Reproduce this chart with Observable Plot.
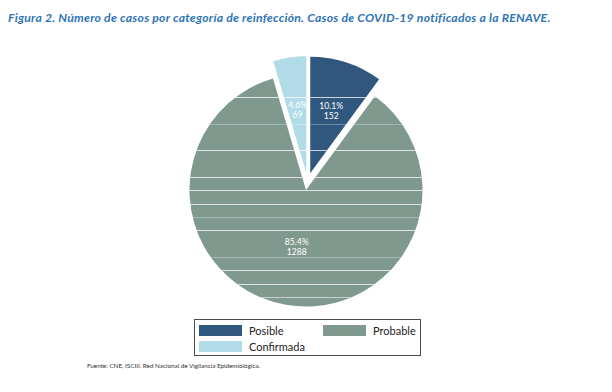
<!DOCTYPE html>
<html><head><meta charset="utf-8">
<script src="https://cdn.jsdelivr.net/npm/d3@7"></script>
<script src="https://cdn.jsdelivr.net/npm/@observablehq/plot@0.6"></script>
<style>
body{margin:0;width:612px;height:392px;position:relative;background:#fff;font-family:Lato,"Open Sans",sans-serif;overflow:hidden}
#title{position:absolute;left:8px;top:10px;font-weight:bold;font-style:italic;font-size:12.2px;letter-spacing:0.25px;color:#2E74B5;white-space:nowrap;line-height:15px}
#chart{position:absolute;left:0;top:30px}
#legend{position:absolute;left:194px;top:319px;width:225px;height:35px;border:1px solid #4a4a4a}
.sw{position:absolute;width:43px;height:11px}
.lt{position:absolute;font-size:11px;color:#222;line-height:12px;white-space:nowrap}
#source{position:absolute;left:87px;top:362px;font-size:6.3px;color:#333;white-space:nowrap;line-height:8px}
</style></head><body>
<div id="title">Figura 2. Número de casos por categoría de reinfección. Casos de COVID-19 notificados a la RENAVE.</div>
<div id="chart"></div>
<div id="legend"></div>
<div id="source">Fuente: CNE, ISCIII. Red Nacional de Vigilancia Epidemiológica.</div>
<script>
const categories = ["Posible", "Probable", "Confirmada"];
const cases = [152, 1288, 69];
const percents = [10.1, 85.4, 4.6];
const colors = ["#30587F", "#7F998E", "#B1DCE7"];
const legendOrder = ["Posible", "Probable", "Confirmada"];

const rows = categories.map((c, i) => ({category: c, cases: cases[i], pct: percents[i], color: colors[i]}));
const slices = d3.pie().sort(null).value(d => d.cases)(rows);
const explode = 0.075;
const labelR = {Posible: 0.565, Probable: 0.49, Confirmada: 0.55};
const labels = slices.map(s => {
  const mid = (s.startAngle + s.endAngle) / 2;
  const rr = explode + labelR[s.data.category];
  return {x: rr * Math.sin(mid), y: rr * Math.cos(mid), text: `${s.data.pct.toFixed(1)}%\n${s.data.cases}`};
});

// faint white seams visible across the pie in the reference (rendering artefact)
const seams = [[0,.75],[2,.3],[4,.75],[6,.75],[7,.75],[8,.75],[9,.3],[10,.75],[12,.3],[13,.75],[14,.75],[15,.55]];

function pieMark(index, scales, values, dimensions) {
  const {x, y} = scales;
  const cx = x(0), cy = y(0), r = x(1) - x(0);
  const g = d3.create("svg:g");
  const clip = g.append("defs").append("clipPath").attr("id", "pieclip");
  const arc = d3.arc().innerRadius(0).outerRadius(r);
  for (const s of slices) {
    const mid = (s.startAngle + s.endAngle) / 2;
    const tx = cx + explode * r * Math.sin(mid), ty = cy - explode * r * Math.cos(mid);
    g.append("path").attr("d", arc(s)).attr("transform", `translate(${tx},${ty})`).attr("fill", s.data.color);
    clip.append("path").attr("d", arc(s)).attr("transform", `translate(${tx},${ty})`);
  }
  const lg = g.append("g").attr("clip-path", "url(#pieclip)");
  const step = r * 0.1144, y0 = cy - r * 0.725;
  for (const [k, o] of seams) {
    const yy = Math.round(y0 + k * step) + 0.5;
    lg.append("line").attr("x1", cx - r - 20).attr("x2", cx + r + 20).attr("y1", yy).attr("y2", yy)
      .attr("stroke", "#fff").attr("stroke-opacity", o).attr("stroke-width", 1);
  }
  return g.node();
}

const chart = Plot.plot({
  width: 612, height: 290,
  marginTop: 0, marginBottom: 0, marginLeft: 0, marginRight: 0,
  x: {domain: [-1, 1], range: [191, 424], axis: null},
  y: {domain: [-1, 1], range: [268, 35], axis: null},
  marks: [
    pieMark,
    Plot.text(labels, {x: "x", y: "y", text: "text", fill: "#fff", fontSize: 8.6, lineHeight: 1.12, fontFamily: "Lato"})
  ]
});
document.getElementById("chart").appendChild(chart);

const leg = document.getElementById("legend");
const pos = {Posible: [4, 5], Probable: [128, 5], Confirmada: [4, 21]};
for (const c of legendOrder) {
  const i = categories.indexOf(c);
  const [lx, ly] = pos[c];
  const sw = document.createElement("div");
  sw.className = "sw"; sw.style.left = lx + "px"; sw.style.top = ly + "px"; sw.style.background = colors[i];
  leg.appendChild(sw);
  const t = document.createElement("div");
  t.className = "lt"; t.style.left = (lx + 50) + "px"; t.style.top = (ly - 0.5) + "px"; t.textContent = c;
  leg.appendChild(t);
}
</script>
</body></html>
